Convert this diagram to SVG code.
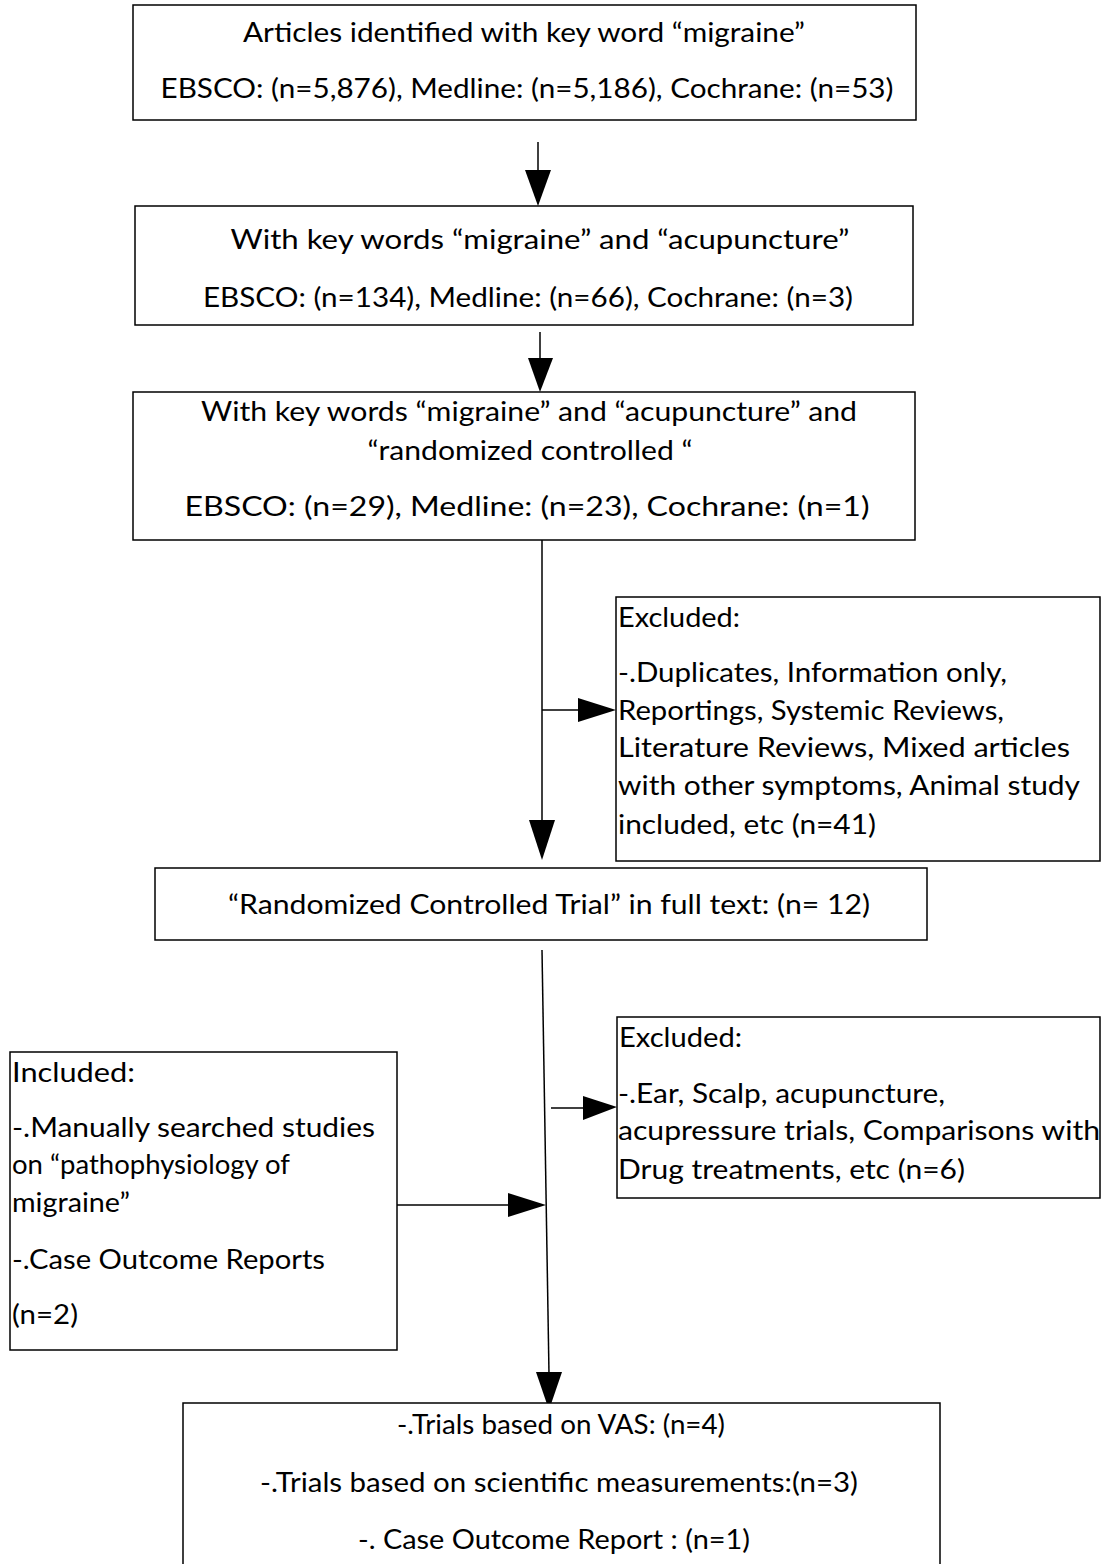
<svg xmlns="http://www.w3.org/2000/svg" width="1108" height="1564" viewBox="0 0 1108 1564">
<style>
.box{fill:#fff;stroke:#000;stroke-width:1.5}
.t{font-family:Lato,"Open Sans","Liberation Sans",sans-serif;font-size:26px;fill:#000}
.c{text-anchor:middle}
.ln{stroke:#000;stroke-width:1.5;fill:none}
.ah{fill:#000}
</style>
<rect width="1108" height="1564" fill="#fff"/>
<g id="connectors">
<line class="ln" x1="538" y1="142" x2="538" y2="172"/>
<polygon class="ah" points="525,170 551,170 538,206"/>
<line class="ln" x1="540" y1="332" x2="540" y2="360"/>
<polygon class="ah" points="528,358 553,358 540,392"/>
<line class="ln" x1="542" y1="540" x2="542" y2="822"/>
<polygon class="ah" points="529,820 555,820 542,860"/>
<line class="ln" x1="542" y1="710" x2="580" y2="710"/>
<polygon class="ah" points="578,698 578,722 616,710"/>
<line class="ln" x1="542" y1="950" x2="549" y2="1374"/>
<polygon class="ah" points="536,1372 562,1372 549,1410"/>
<line class="ln" x1="551" y1="1108" x2="585" y2="1108"/>
<polygon class="ah" points="583,1096 583,1120 617,1107"/>
<line class="ln" x1="397" y1="1205" x2="510" y2="1205"/>
<polygon class="ah" points="508,1193 508,1217 546,1205"/>
</g>
<g id="n1">
<rect class="box" x="133" y="5" width="783" height="115"/>
<text class="t c" x="524" y="42" textLength="562" lengthAdjust="spacingAndGlyphs">Articles identified with key word “migraine”</text>
<text class="t c" x="527" y="98" textLength="733" lengthAdjust="spacingAndGlyphs">EBSCO:  (n=5,876), Medline: (n=5,186), Cochrane: (n=53)</text>
</g>
<g id="n2">
<rect class="box" x="135" y="206" width="778" height="119"/>
<text class="t c" x="540" y="249" textLength="619" lengthAdjust="spacingAndGlyphs">With key words “migraine” and “acupuncture”</text>
<text class="t c" x="528" y="307" textLength="650" lengthAdjust="spacingAndGlyphs">EBSCO: (n=134), Medline: (n=66), Cochrane: (n=3)</text>
</g>
<g id="n3">
<rect class="box" x="133" y="392" width="782" height="148"/>
<text class="t c" x="529" y="421" textLength="656" lengthAdjust="spacingAndGlyphs">With key words “migraine” and “acupuncture” and</text>
<text class="t c" x="530" y="460" textLength="325" lengthAdjust="spacingAndGlyphs">“randomized controlled “</text>
<text class="t c" x="527" y="516" textLength="685" lengthAdjust="spacingAndGlyphs">EBSCO: (n=29), Medline: (n=23), Cochrane: (n=1)</text>
</g>
<g id="n4">
<rect class="box" x="616" y="597" width="484" height="264"/>
<text class="t" x="618" y="627" textLength="122" lengthAdjust="spacingAndGlyphs">Excluded:</text>
<text class="t" x="618" y="682" textLength="389" lengthAdjust="spacingAndGlyphs">-.Duplicates, Information only,</text>
<text class="t" x="618" y="720" textLength="386" lengthAdjust="spacingAndGlyphs">Reportings, Systemic Reviews,</text>
<text class="t" x="618" y="757" textLength="452" lengthAdjust="spacingAndGlyphs">Literature Reviews, Mixed articles</text>
<text class="t" x="618" y="795" textLength="462" lengthAdjust="spacingAndGlyphs">with other symptoms, Animal study</text>
<text class="t" x="618" y="834" textLength="258" lengthAdjust="spacingAndGlyphs">included, etc (n=41)</text>
</g>
<g id="n5">
<rect class="box" x="155" y="868" width="772" height="72"/>
<text class="t c" x="549" y="914" textLength="642" lengthAdjust="spacingAndGlyphs">“Randomized Controlled Trial” in full text: (n= 12)</text>
</g>
<g id="n6">
<rect class="box" x="617" y="1017" width="483" height="181"/>
<text class="t" x="619" y="1047" textLength="123" lengthAdjust="spacingAndGlyphs">Excluded:</text>
<text class="t" x="618" y="1103" textLength="327" lengthAdjust="spacingAndGlyphs">-.Ear, Scalp, acupuncture,</text>
<text class="t" x="618" y="1140" textLength="482" lengthAdjust="spacingAndGlyphs">acupressure trials, Comparisons with</text>
<text class="t" x="618" y="1179" textLength="347" lengthAdjust="spacingAndGlyphs">Drug treatments, etc (n=6)</text>
</g>
<g id="n7">
<rect class="box" x="10" y="1052" width="387" height="298"/>
<text class="t" x="12" y="1082" textLength="123" lengthAdjust="spacingAndGlyphs">Included:</text>
<text class="t" x="12" y="1137" textLength="363" lengthAdjust="spacingAndGlyphs">-.Manually searched studies</text>
<text class="t" x="12" y="1174" textLength="278" lengthAdjust="spacingAndGlyphs">on “pathophysiology of</text>
<text class="t" x="12" y="1212" textLength="118" lengthAdjust="spacingAndGlyphs">migraine”</text>
<text class="t" x="12" y="1269" textLength="313" lengthAdjust="spacingAndGlyphs">-.Case Outcome Reports</text>
<text class="t" x="12" y="1324" textLength="66" lengthAdjust="spacingAndGlyphs">(n=2)</text>
</g>
<g id="n8">
<rect class="box" x="183" y="1403" width="757" height="170"/>
<text class="t c" x="561" y="1434" textLength="328" lengthAdjust="spacingAndGlyphs">-.Trials based on VAS: (n=4)</text>
<text class="t c" x="559" y="1492" textLength="598" lengthAdjust="spacingAndGlyphs">-.Trials based on scientific measurements:(n=3)</text>
<text class="t c" x="554" y="1549" textLength="392" lengthAdjust="spacingAndGlyphs">-. Case Outcome Report : (n=1)</text>
</g>
</svg>
